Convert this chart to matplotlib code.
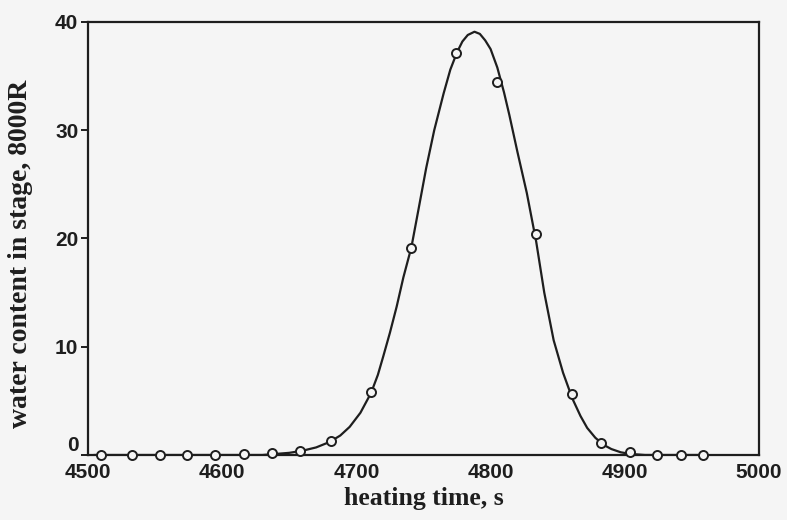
import matplotlib
matplotlib.use("Agg")
import matplotlib.pyplot as plt
from matplotlib.transforms import ScaledTranslation

# measured points (open circles)
time_s = [4510, 4533, 4554, 4574, 4595, 4616, 4637, 4658, 4681, 4711,
          4741, 4774, 4805, 4834, 4861, 4882, 4904, 4924, 4942, 4958]
water = [0.0, 0.0, 0.0, 0.0, 0.0, 0.1, 0.2, 0.4, 1.3, 5.8,
         19.1, 37.1, 34.5, 20.4, 5.6, 1.1, 0.3, 0.0, 0.0, 0.0]

# fitted curve
curve_t = [4505, 4630, 4640, 4650, 4660, 4670, 4680, 4688, 4695, 4703,
           4711, 4716, 4720, 4725, 4730, 4735, 4741, 4746, 4752, 4758,
           4765, 4770, 4775, 4779, 4783, 4788, 4792, 4796, 4800, 4805,
           4810, 4814, 4820, 4827, 4834, 4840, 4847, 4854, 4861, 4867,
           4872, 4878, 4884, 4890, 4897, 4904, 4915, 4960]
curve_w = [0.0, 0.0, 0.1, 0.2, 0.4, 0.7, 1.2, 1.8, 2.6, 3.9,
           5.75, 7.4, 9.1, 11.3, 13.7, 16.4, 19.2, 22.5, 26.5, 30.0,
           33.4, 35.6, 37.2, 38.2, 38.8, 39.1, 38.9, 38.3, 37.5, 35.8,
           33.5, 31.4, 28.0, 24.2, 19.7, 15.0, 10.6, 7.6, 5.2, 3.6,
           2.5, 1.6, 0.95, 0.55, 0.25, 0.1, 0.0, 0.0]

ink = '#1e1e1e'
paper = '#f5f5f5'

fig = plt.figure(figsize=(7.87, 5.2), dpi=100, facecolor=paper)
ax = fig.add_axes([0.1118, 0.125, 0.8526, 0.8327])
ax.set_facecolor(paper)

ax.plot(curve_t, curve_w, color=ink, lw=1.6, zorder=2, solid_joinstyle='round')
ax.plot(time_s, water, ls='none', marker='o', ms=6.5, mfc=paper,
        mec=ink, mew=1.4, zorder=3, clip_on=False)

ax.set_xlim(4500, 5000)
ax.set_ylim(0, 40)
ax.set_xticks([4500, 4600, 4700, 4800, 4900, 5000])
ax.set_yticks([0, 10, 20, 30, 40])

for s in ax.spines.values():
    s.set_linewidth(1.6)
    s.set_color(ink)

ax.tick_params(axis='y', direction='out', length=5, width=1.4, colors=ink, pad=2)
ax.tick_params(axis='x', length=0, pad=6, colors=ink)
for lab in ax.get_xticklabels() + ax.get_yticklabels():
    lab.set_fontfamily('Liberation Sans')
    lab.set_fontweight('bold')
    lab.set_fontsize(15)

# the "0" sits a little above the corner, as in the original
ylabs = ax.get_yticklabels()
ylabs[0].set_transform(ylabs[0].get_transform() + ScaledTranslation(0, 8 / 72, fig.dpi_scale_trans))

ax.set_xlabel('heating time, s', fontfamily='Liberation Serif', fontweight='bold',
              fontsize=18.5, color=ink, labelpad=3)
ax.set_ylabel('water content in stage, 8000R', fontfamily='Liberation Serif',
              fontweight='bold', fontsize=20, color=ink)
ax.yaxis.set_label_coords(-0.082, 0.465)

fig.savefig('out.png', dpi=100, facecolor=paper)
